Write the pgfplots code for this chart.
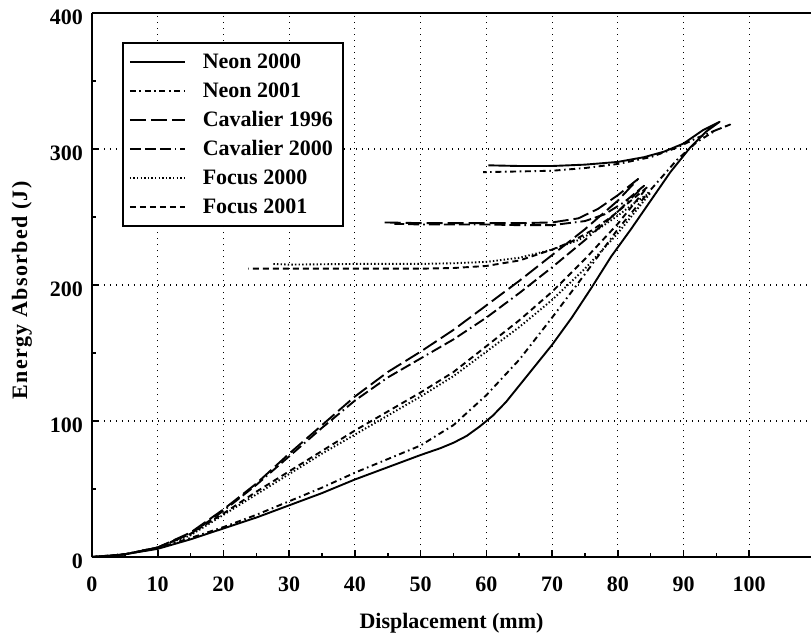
\documentclass[border=0pt]{standalone}
\usepackage{fontspec}
\setmainfont{Liberation Serif}
\newfontfamily\spacedfont[LetterSpace=6]{Liberation Serif}
\usepackage{pgfplots}
\pgfplotsset{compat=1.18}

% Energy absorbed versus displacement, loading and unloading paths
\pgfplotstableread{
x y
0 0
2 0.3
5 2
10 6
15 13
20 21
25 29
30 38
35 47
40 57
45 66
50 75
53 80
55 84
57 89
59 96
61 104
63 114
66 132
70 156
73 176
76 198
79 221
82 241
85 262
88 283
91 301
93.5 313
95.5 320
93 314
90 304
87 298
84 294
80 290.5
75 288.5
70 287.5
65 287.5
60.3 288
}\neontwothousand

\pgfplotstableread{
x y
0 0
2 0.3
5 2
10 6.5
15 14
20 22
25 31
30 41
35 51
40 62
45 72
50 82
55 97
60 119
65 145
70 176
75 208
80 241
85 270
89 292
92 305
95 314
97.1 318
94.5 313
92 308
89 301
85 294
80 289
75 286
70 284
65 283.5
59.5 283
}\neontwothousandone

\pgfplotstableread{
x y
0 0
5 2
10 7
15 18
20 35
25 54
30 76
35 97
40 118
45 136
50 151
55 167
60 185
65 203
70 222
75 241
80 262
83.1 278
80 266
77 256
74 249
70 246
65 245.5
60 245.5
55 245.5
50 245.5
44.5 246
}\cavalierninetysix

\pgfplotstableread{
x y
0 0
5 2
10 7
15 17
20 34
25 53
30 74
35 95
40 115
45 132
50 146
55 160
60 176
65 194
70 213
75 233
80 254
84 273
81 261
78 252
75 247
70 244
65 244
60 244.5
55 244.5
50 244.5
46 245
}\cavaliertwothousand

\pgfplotstableread{
x y
0 0
5 2
10 7
15 16
20 31
25 46
30 61
35 76
40 90
45 104
50 118
55 133
60 151
65 169
70 189
75 212
80 238
85 268
83 262
80 251
77 241
74 233
70 226
65 220
60 217
55 216
50 215.5
40 215.5
30 215
27.5 215.5
}\focustwothousand

\pgfplotstableread{
x y
0 0
5 2
10 7
15 17
20 32
25 48
30 63
35 78
40 93
45 107
50 121
55 136
60 155
65 174
70 195
75 219
80 245
84.5 272
82 262
79 250
76 240
73 232
70 226
65 218
60 214
55 212.5
50 212
40 212
30 212
23.8 212
}\focustwothousandone

\begin{document}
\begin{tikzpicture}
\begin{axis}[
  scale only axis,
  width=359.5pt, height=272pt,
  xmin=0, xmax=109.4, ymin=0, ymax=400,
  axis x line*=box, axis y line*=left,
  xtick={0,10,...,100}, ytick={0,100,...,400},
  minor x tick num=1, minor y tick num=1,
  xtick pos=left, ytick pos=left,
  tick align=inside,
  major tick length=3.5pt, minor tick length=2pt,
  every tick/.style={black, line width=0.8pt},
  axis line style={black, line width=1.1pt},
  grid=major,
  major grid style={black, line width=0.55pt, dash pattern=on 0.6pt off 2.4pt},
  /pgf/number format/assume math mode=true,
  ticklabel style={font=\fontsize{11}{12}\selectfont\bfseries},
  xticklabel style={yshift=-6.5pt},
  yticklabel style={xshift=-1pt, yshift=-2pt},
  xlabel={Displacement (mm)},
  ylabel={Energy Absorbed (J)},
  xlabel style={at={(axis description cs:0.5,-0.1215)}, anchor=center,
    font=\fontsize{11}{13}\selectfont\bfseries},
  ylabel style={at={(axis description cs:-0.0974,0.49)}, anchor=center,
    font=\fontsize{11}{13}\selectfont\spacedfont\bfseries},
  legend style={at={(0.0417,0.9467)}, anchor=north west, draw=black,
    line width=0.9pt, fill=white, inner xsep=3pt, inner ysep=3pt,
    font=\fontsize{11}{12}\selectfont\bfseries, row sep=1.5pt,
    column sep=6.5pt, cells={anchor=west},
    nodes={inner sep=2pt, text height=8pt, text depth=1pt}},
  legend image code/.code={\draw[#1] (0pt,0pt) -- (27.5pt,0pt);},
  every axis plot/.append style={black, line width=0.95pt, line join=round},
]
\coordinate (SW) at (rel axis cs:0,0);
\coordinate (NE) at (rel axis cs:1,1);

\addplot[solid] table[x=x,y=y] {\neontwothousand};
\addlegendentry{Neon 2000}
\addplot[dash pattern=on 3pt off 1.8pt on 0.8pt off 1.8pt] table[x=x,y=y] {\neontwothousandone};
\addlegendentry{Neon 2001}
\addplot[dash pattern=on 8pt off 2.5pt] table[x=x,y=y] {\cavalierninetysix};
\addlegendentry{Cavalier 1996}
\addplot[dash pattern=on 5.5pt off 2pt on 5.5pt off 2pt on 5.5pt off 2pt on 0.8pt off 2pt] table[x=x,y=y] {\cavaliertwothousand};
\addlegendentry{Cavalier 2000}
\addplot[dash pattern=on 0.7pt off 1.1pt] table[x=x,y=y] {\focustwothousand};
\addlegendentry{Focus 2000}
\addplot[dash pattern=on 3pt off 2pt] table[x=x,y=y] {\focustwothousandone};
\addlegendentry{Focus 2001}
\end{axis}
\pgfresetboundingbox
\path ([shift={(-46pt,-40pt)}]SW) rectangle ([shift={(0pt,6.5pt)}]NE);
\end{tikzpicture}
\end{document}
